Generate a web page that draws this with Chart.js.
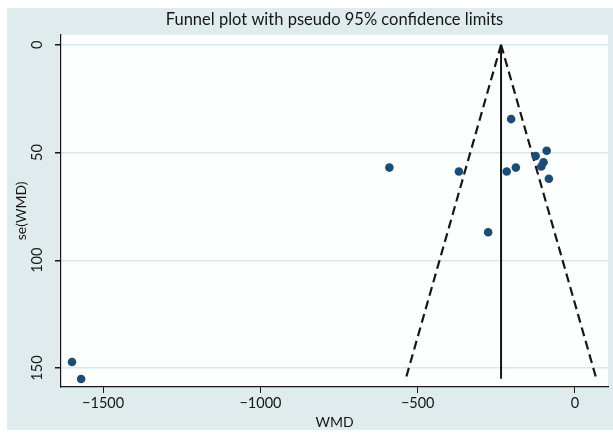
<!DOCTYPE html>
<html>
<head>
<meta charset="utf-8">
<title>Funnel plot</title>
<script src="https://cdn.jsdelivr.net/npm/chart.js@4.4.1/dist/chart.umd.min.js"></script>
<style>
  html, body { margin: 0; padding: 0; background: #ffffff; }
  #wrap { width: 613px; height: 433px; }
</style>
</head>
<body>
<div id="wrap"><canvas id="funnel" width="613" height="433"></canvas></div>
<script>
// studies: weighted mean difference and its standard error
const wmd   = [-1599, -1570, -590, -369, -276, -217, -203, -188, -125, -107, -100, -90, -83];
const seWmd = [147.2, 155.1, 57.0, 58.8, 87.0, 58.8, 34.5, 57.0, 51.6, 56.5, 54.5, 49.2, 62.2];

// pooled estimate line and pseudo 95% limits (top and bottom of the funnel)
const funnelSe    = [0, 155];
const pooledLine  = [-235, -235];
const lowerLimit  = [-235, -538];
const upperLimit  = [-235, 68];

const xTicks = [-1500, -1000, -500, 0];
const yTicks = [0, 50, 100, 150];

const FONT = 'Lato, "DejaVu Sans", sans-serif';
const INK = '#161616';
const NAVY = '#1b4b77';

const toPoints = (xs, ys) => xs.map((x, i) => ({ x: x, y: ys[i] }));

// light blue graph region behind a white plot region
const backdrop = {
    id: 'backdrop',
    beforeDraw(chart) {
        const { ctx, chartArea: a } = chart;
        ctx.save();
        ctx.fillStyle = '#ffffff';
        ctx.fillRect(0, 0, chart.width, chart.height);
        ctx.fillStyle = '#e0ebee';
        ctx.fillRect(7, 8, chart.width - 7, chart.height - 11);
        ctx.fillStyle = '#fdfefe';
        ctx.fillRect(a.left, a.top, a.right - a.left, a.bottom - a.top);
        ctx.restore();
    }
};

const ctx = document.getElementById('funnel').getContext('2d');
const chart = new Chart(ctx, {
    type: 'scatter',
    data: {
        datasets: [{
            label: 'studies',
            data: toPoints(wmd, seWmd),
            backgroundColor: NAVY,
            borderColor: NAVY,
            pointRadius: 4.3,
            pointBorderWidth: 0,
            order: 0
        }, {
            label: 'pooled',
            type: 'line',
            data: toPoints(pooledLine, funnelSe),
            borderColor: INK,
            borderWidth: 2,
            pointRadius: 0,
            fill: false,
            order: 1
        }, {
            label: 'lower',
            type: 'line',
            data: toPoints(lowerLimit, funnelSe),
            borderColor: INK,
            borderWidth: 2.2,
            borderDash: [9, 5],
            pointRadius: 0,
            fill: false,
            order: 1
        }, {
            label: 'upper',
            type: 'line',
            data: toPoints(upperLimit, funnelSe),
            borderColor: INK,
            borderWidth: 2.2,
            borderDash: [9, 5],
            pointRadius: 0,
            fill: false,
            order: 1
        }]
    },
    options: {
        responsive: false,
        animation: false,
        layout: { padding: { left: 0, right: 5, top: 0, bottom: 0 } },
        plugins: {
            legend: { display: false },
            tooltip: { enabled: false },
            title: {
                display: true,
                fullSize: false,
                text: 'Funnel plot with pseudo 95% confidence limits',
                color: INK,
                font: { family: FONT, size: 16.5, weight: 'normal' },
                padding: { top: 10, bottom: 5 }
            }
        },
        scales: {
            x: {
                type: 'linear',
                min: -1634,
                max: 105,
                afterBuildTicks: s => { s.ticks = xTicks.map(v => ({ value: v })); },
                afterFit: s => { s.height = 46; },
                border: { color: INK, width: 1.2 },
                grid: { color: 'transparent', tickColor: INK, tickLength: 6, drawTicks: true },
                ticks: {
                    color: INK,
                    font: { family: FONT, size: 14.5 },
                    padding: 2,
                    maxRotation: 0,
                    callback: v => String(v).replace('-', '\u2212')
                },
                title: {
                    display: true,
                    text: 'WMD',
                    color: INK,
                    font: { family: FONT, size: 14 },
                    padding: { top: 0, bottom: 2 }
                }
            },
            y: {
                type: 'linear',
                reverse: true,
                min: -4.6,
                max: 158.8,
                afterBuildTicks: s => { s.ticks = yTicks.map(v => ({ value: v })); },
                afterFit: s => { s.width = 61; },
                border: { color: INK, width: 1.2 },
                grid: { color: '#d7e8ec', lineWidth: 1.5, tickColor: INK, tickLength: 6, drawTicks: true },
                ticks: {
                    color: INK,
                    font: { family: FONT, size: 14.5 },
                    padding: 5,
                    minRotation: 90,
                    maxRotation: 90,
                    crossAlign: 'center'
                },
                title: {
                    display: true,
                    text: 'se(WMD)',
                    color: INK,
                    font: { family: FONT, size: 14 },
                    padding: { top: 13, bottom: 0 }
                }
            }
        }
    },
    plugins: [backdrop]
});
</script>
</body>
</html>
